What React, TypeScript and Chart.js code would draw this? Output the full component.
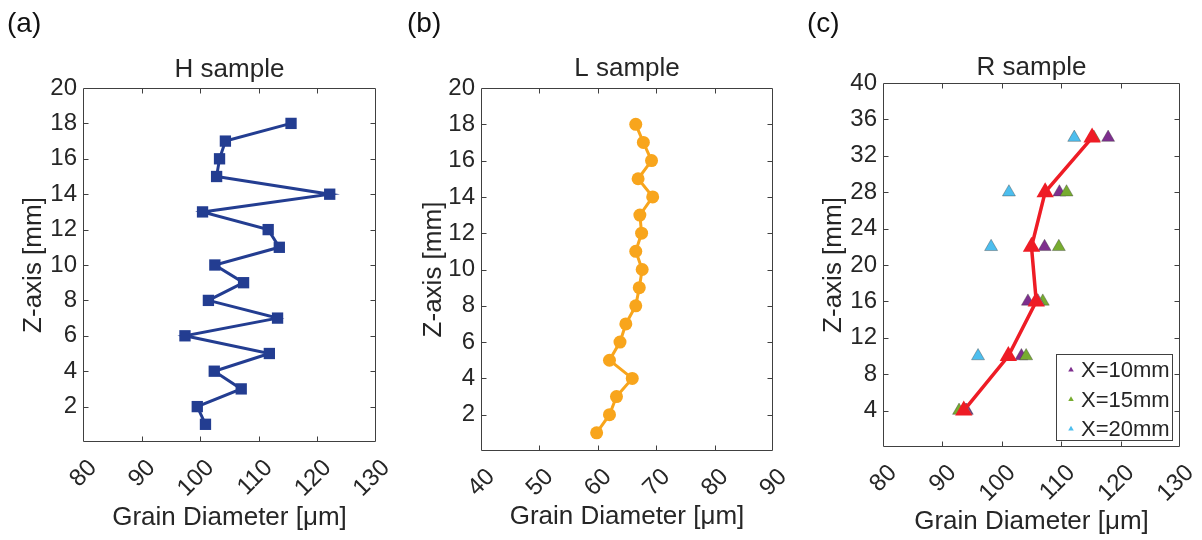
import React, { useEffect, useRef } from "react";
import { Chart, registerables } from "chart.js";

Chart.register(...registerables);

// ---------------- data ----------------
const H_Z = [18, 17, 16, 15, 14, 13, 12, 11, 10, 9, 8, 7, 6, 5, 4, 3, 2, 1];
const H_DIAMETER = [115.5, 104.3, 103.3, 102.8, 122.1, 100.4, 111.6, 113.5, 102.5, 107.4, 101.4, 113.2, 97.4, 111.8, 102.4, 107.0, 99.5, 100.9];

const L_Z = [18, 17, 16, 15, 14, 13, 12, 11, 10, 9, 8, 7, 6, 5, 4, 3, 2, 1];
const L_DIAMETER = [66.5, 67.8, 69.2, 66.9, 69.4, 67.2, 67.5, 66.5, 67.6, 67.1, 66.5, 64.8, 63.8, 62.0, 65.9, 63.2, 62.0, 59.8];

const R_Z = [34, 28, 22, 16, 10, 4];
const R_MEAN = [115.2, 107.3, 105.0, 105.8, 101.1, 93.6];
const R_X10 = [117.9, 109.7, 107.2, 104.4, 103.3, 94.1];
const R_X15 = [115.5, 110.9, 109.6, 106.9, 104.1, 92.8];
const R_X20 = [112.2, 101.2, 98.2, 106.1, 96.0, 93.9];

const R_SERIES_LABELS = ["X=10mm", "X=15mm", "X=20mm"];
const PANEL_LETTERS = ["(a)", "(b)", "(c)"];
const PANEL_TITLES = ["H sample", "L sample", "R sample"];

const H_X_RANGE = [80, 130];
const L_X_RANGE = [40, 90];
const R_X_RANGE = [80, 130];
const X_STEP = 10;
const HL_Y_RANGE = [0, 20];
const HL_Y_STEP = 2;
const R_Y_RANGE = [0, 40];
const R_Y_STEP = 4;

const X_TITLE = "Grain Diameter [μm]";
const Y_TITLE = "Z-axis [mm]";

// ---------------- styles ----------------
const FONT = '"Liberation Sans", Arial, Helvetica, sans-serif';
const TXT = "#262626";
const AXIS = "#404040";
const NAVY = "#233d91";
const ORANGE = "#f8a51c";
const RED = "#ee1c25";
const PURPLE = "#7e2f8e";
const GREEN = "#77ac30";
const CYAN = "#4dbeee";

const pts = (xs: number[], ys: number[]) => xs.map((x, i) => ({ x, y: ys[i] }));

const boxPlugin = {
  id: "matlabBox",
  beforeDatasetsDraw(chart: any) {
    const { ctx, chartArea: a, scales } = chart;
    const xs = scales.x;
    const ys = scales.y;
    const L = Math.round(a.left) + 0.5;
    const R = Math.round(a.right) - 0.5;
    const T = Math.round(a.top) + 0.5;
    const B = Math.round(a.bottom) - 0.5;
    const tl = 5;
    ctx.save();
    ctx.strokeStyle = AXIS;
    ctx.lineWidth = 1;
    ctx.beginPath();
    ctx.rect(L, T, R - L, B - T);
    xs.ticks.forEach((t: any) => {
      const px = Math.round(xs.getPixelForValue(t.value)) + 0.5;
      if (px <= L + 1 || px >= R - 1) return;
      ctx.moveTo(px, B);
      ctx.lineTo(px, B - tl);
      ctx.moveTo(px, T);
      ctx.lineTo(px, T + tl);
    });
    ys.ticks.forEach((t: any) => {
      const py = Math.round(ys.getPixelForValue(t.value)) + 0.5;
      if (py <= T + 1 || py >= B - 1) return;
      ctx.moveTo(L, py);
      ctx.lineTo(L + tl, py);
      ctx.moveTo(R, py);
      ctx.lineTo(R - tl, py);
    });
    ctx.stroke();
    ctx.restore();
  },
};

const legendPlugin = {
  id: "insideLegend",
  afterDraw(chart: any) {
    const { ctx, chartArea: a } = chart;
    const items = chart.data.datasets.filter((d: any) => d.label);
    const w = 116;
    const h = 86;
    const right = Math.round(a.right) - 8;
    const bottom = Math.round(a.bottom) - 7;
    const left = right - w;
    const top = bottom - h;
    ctx.save();
    ctx.fillStyle = "#ffffff";
    ctx.fillRect(left, top, w, h);
    ctx.strokeStyle = AXIS;
    ctx.lineWidth = 1;
    ctx.strokeRect(left + 0.5, top + 0.5, w, h);
    items.forEach((d: any, i: number) => {
      const cy = top + 16 + i * 29.5;
      const cx = left + 15;
      const r = 3.2;
      ctx.beginPath();
      ctx.moveTo(cx, cy - r);
      ctx.lineTo(cx + r * 0.866, cy + r / 2);
      ctx.lineTo(cx - r * 0.866, cy + r / 2);
      ctx.closePath();
      ctx.fillStyle = d.backgroundColor;
      ctx.fill();
      ctx.fillStyle = TXT;
      ctx.font = `22px ${FONT}`;
      ctx.textAlign = "left";
      ctx.textBaseline = "middle";
      ctx.fillText(d.label, left + 25, cy + 1);
    });
    ctx.restore();
  },
};

type PanelCfg = {
  left: number;
  width: number;
  yAxisWidth: number;
  padRight: number;
  titlePadTop: number;
  titlePadBottom: number;
  xAxisHeight: number;
  xTitlePadBottom: number;
  xRange: number[];
  yRange: number[];
  yStep: number;
  title: string;
  letter: string;
  datasets: any[];
  legend: boolean;
};

function makeOptions(p: PanelCfg) {
  const tickFont = { family: FONT, size: 24 };
  const titleFont = { family: FONT, size: 26, lineHeight: 1.2 };
  return {
    responsive: false,
    animation: false as const,
    events: [],
    layout: { padding: { left: 0, right: p.padRight, top: 0, bottom: 0 } },
    plugins: {
      legend: { display: false },
      tooltip: { enabled: false },
      title: {
        display: true,
        text: p.title,
        fullSize: false,
        color: TXT,
        font: { family: FONT, size: 26, weight: "normal", lineHeight: 1 },
        padding: { top: p.titlePadTop, bottom: p.titlePadBottom },
      },
    },
    scales: {
      x: {
        type: "linear",
        position: "bottom",
        min: p.xRange[0],
        max: p.xRange[1],
        grid: { display: false, drawTicks: false },
        border: { display: false },
        ticks: {
          stepSize: X_STEP,
          autoSkip: false,
          minRotation: 45,
          maxRotation: 45,
          padding: 12,
          labelOffset: 10,
          color: TXT,
          font: tickFont,
        },
        title: {
          display: true,
          text: X_TITLE,
          color: TXT,
          font: titleFont,
          padding: { top: 0, bottom: p.xTitlePadBottom },
        },
        afterFit: (s: any) => {
          s.height = p.xAxisHeight;
          s.paddingLeft = 0;
          s.paddingRight = 0;
        },
      },
      y: {
        type: "linear",
        position: "left",
        min: p.yRange[0],
        max: p.yRange[1],
        grid: { display: false, drawTicks: false },
        border: { display: false },
        ticks: {
          stepSize: p.yStep,
          autoSkip: false,
          padding: 6,
          color: TXT,
          font: tickFont,
          callback: (v: any) => (v === 0 ? "" : String(v)),
        },
        title: {
          display: true,
          text: Y_TITLE,
          color: TXT,
          font: titleFont,
          padding: { top: 18, bottom: 0 },
        },
        afterFit: (s: any) => {
          s.width = p.yAxisWidth;
          s.paddingTop = 0;
          s.paddingBottom = 0;
        },
      },
    },
  };
}

function Panel({ cfg }: { cfg: PanelCfg }) {
  const ref = useRef<HTMLCanvasElement | null>(null);
  useEffect(() => {
    if (!ref.current) return;
    const chart = new Chart(ref.current, {
      type: "scatter",
      data: { datasets: cfg.datasets },
      options: makeOptions(cfg) as any,
      plugins: cfg.legend ? [boxPlugin, legendPlugin] : [boxPlugin],
    });
    return () => chart.destroy();
  }, [cfg]);
  return (
    <>
      <canvas
        ref={ref}
        width={cfg.width}
        height={540}
        style={{ position: "absolute", left: cfg.left, top: 0, width: cfg.width, height: 540 }}
      />
      <div
        style={{
          position: "absolute",
          left: cfg.left + 7,
          top: 9,
          fontFamily: FONT,
          fontSize: 28,
          lineHeight: 1,
          color: "#111",
        }}
      >
        {cfg.letter}
      </div>
    </>
  );
}

const triangleSet = (label: string, xs: number[], color: string, order: number) => ({
  label,
  data: pts(xs, R_Z),
  showLine: false,
  pointStyle: "triangle",
  pointRadius: 7.5,
  backgroundColor: color,
  borderColor: "rgba(60,60,60,0.55)",
  borderWidth: 0.7,
  order,
});

const PANELS: PanelCfg[] = [
  {
    left: 0,
    width: 400,
    yAxisWidth: 83,
    padRight: 24,
    titlePadTop: 57,
    titlePadBottom: 5,
    xAxisHeight: 98,
    xTitlePadBottom: 7,
    xRange: H_X_RANGE,
    yRange: HL_Y_RANGE,
    yStep: HL_Y_STEP,
    title: PANEL_TITLES[0],
    letter: PANEL_LETTERS[0],
    legend: false,
    datasets: [
      {
        label: "",
        data: pts(H_DIAMETER, H_Z),
        showLine: true,
        borderColor: NAVY,
        backgroundColor: NAVY,
        borderWidth: 3,
        pointStyle: "rect",
        pointRadius: 8,
        pointBorderWidth: 0,
      },
    ],
  },
  {
    left: 400,
    width: 400,
    yAxisWidth: 81,
    padRight: 27,
    titlePadTop: 56,
    titlePadBottom: 6,
    xAxisHeight: 89,
    xTitlePadBottom: 8,
    xRange: L_X_RANGE,
    yRange: HL_Y_RANGE,
    yStep: HL_Y_STEP,
    title: PANEL_TITLES[1],
    letter: PANEL_LETTERS[1],
    legend: false,
    datasets: [
      {
        label: "",
        data: pts(L_DIAMETER, L_Z),
        showLine: true,
        borderColor: ORANGE,
        backgroundColor: ORANGE,
        borderWidth: 3,
        pointStyle: "circle",
        pointRadius: 6.5,
        pointBorderWidth: 0,
      },
    ],
  },
  {
    left: 800,
    width: 402,
    yAxisWidth: 83,
    padRight: 22,
    titlePadTop: 55,
    titlePadBottom: 2,
    xAxisHeight: 93,
    xTitlePadBottom: 3,
    xRange: R_X_RANGE,
    yRange: R_Y_RANGE,
    yStep: R_Y_STEP,
    title: PANEL_TITLES[2],
    letter: PANEL_LETTERS[2],
    legend: true,
    datasets: [
      triangleSet(R_SERIES_LABELS[0], R_X10, PURPLE, 3),
      triangleSet(R_SERIES_LABELS[1], R_X15, GREEN, 2),
      triangleSet(R_SERIES_LABELS[2], R_X20, CYAN, 1),
      {
        label: "",
        data: pts(R_MEAN, R_Z),
        showLine: true,
        borderColor: RED,
        backgroundColor: RED,
        borderWidth: 3.5,
        pointStyle: "triangle",
        pointRadius: 10,
        pointBorderWidth: 0,
        order: 0,
      },
    ],
  },
];

export default function App() {
  return (
    <div
      style={{
        position: "absolute",
        left: 0,
        top: 0,
        width: 1202,
        height: 540,
        overflow: "hidden",
        background: "#ffffff",
      }}
    >
      {PANELS.map((p, i) => (
        <Panel key={i} cfg={p} />
      ))}
    </div>
  );
}
